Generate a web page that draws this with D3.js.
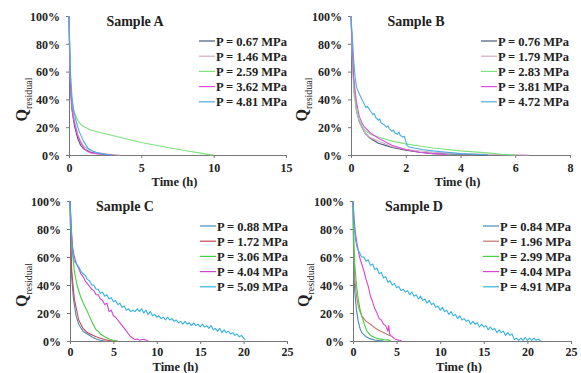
<!DOCTYPE html>
<html>
<head>
<meta charset="utf-8">
<script src="https://cdn.jsdelivr.net/npm/d3@7"></script>
<style>
  body { margin: 0; background: #fff; }
  svg { display: block; }
  text { font-family: "Liberation Serif", "Times New Roman", serif; font-weight: bold; fill: #222; }
  .axis path, .axis line { stroke: #777; }
</style>
</head>
<body>
<svg id="chart" width="581" height="373"></svg>
<script>
// --- data: time (h), residual (%)
const labelsA = ['P = 0.67 MPa', 'P = 1.46 MPa', 'P = 2.59 MPa', 'P = 3.62 MPa', 'P = 4.81 MPa'];
const labelsB = ['P = 0.76 MPa', 'P = 1.79 MPa', 'P = 2.83 MPa', 'P = 3.81 MPa', 'P = 4.72 MPa'];
const labelsC = ['P = 0.88 MPa', 'P = 1.72 MPa', 'P = 3.06 MPa', 'P = 4.04 MPa', 'P = 5.09 MPa'];
const labelsD = ['P = 0.84 MPa', 'P = 1.96 MPa', 'P = 2.99 MPa', 'P = 4.04 MPa', 'P = 4.91 MPa'];

const xTicksA = [0, 5, 10, 15];
const xTicksB = [0, 2, 4, 6, 8];
const xTicksCD = [0, 5, 10, 15, 20, 25];
const yTicks = [0, 20, 40, 60, 80, 100];

const A1 = [[0,100],[0.05,68],[0.1,48],[0.2,33],[0.3,26],[0.4,20],[0.6,12],[0.8,7],[1,4.5],[1.5,2],[2,1],[2.5,0.5],[3,0.2]];
const A2 = [[0,100],[0.05,72],[0.1,52],[0.2,36],[0.3,29],[0.4,24],[0.6,15],[0.8,10],[1,6.5],[1.5,3],[2,1.5],[2.5,0.8],[3,0.4],[3.5,0]];
const A3 = [[0,100],[0.05,75],[0.1,55],[0.2,40],[0.3,34],[0.4,30],[0.6,25],[0.8,22],[1,20.5],[1.5,18],[2,16.5],[3,14],[4,11.5],[5,9],[6,7],[7,5],[8,3.2],[9,1.5],[9.7,0.3],[10,0]];
const A4 = [[0,100],[0.05,70],[0.1,50],[0.2,35],[0.3,27],[0.4,22],[0.6,14],[0.8,9],[1,5.5],[1.2,3],[1.5,1.5],[2,0.8],[2.5,0.5],[3,0]];
const A5 = [[0,100],[0.05,80],[0.1,60],[0.2,42],[0.3,33],[0.5,24],[0.7,17],[1,10],[1.3,5],[1.6,3],[2,1.5],[2.5,0.5],[3,0]];

const B1 = [[0,100],[0.05,72],[0.1,52],[0.2,32],[0.3,24],[0.5,16],[0.7,12],[1,8.5],[1.5,5.5],[2,3.5],[2.5,2],[3,1],[4,0.5],[5,0]];
const B2 = [[0,100],[0.05,72],[0.1,52],[0.2,32],[0.3,24],[0.5,16],[0.7,12.5],[1,10],[1.5,6],[2,4],[3,2],[4,1],[5,0.5],[6,0.2],[6.5,0]];
const B3 = [[0,100],[0.05,70],[0.1,45],[0.2,32],[0.3,25],[0.5,18],[0.7,15],[1,13],[1.5,10],[2,8],[2.5,6.5],[3,5],[4,3],[5,1.5],[5.5,0.5],[6,0]];
const B4 = [[0,100],[0.05,75],[0.1,55],[0.2,38],[0.3,28],[0.4,23],[0.5,20],[0.7,16],[1,12],[1.5,7],[2,4],[2.5,2],[3,1],[3.5,0.3]];
const B5 = [[0,100],[0.05,84],[0.1,68],[0.15,56],[0.2,49],[0.3,44],[0.4,40],[0.5,36],[0.55,34],[0.6,35],[0.7,32],[0.8,29],[0.85,30],[0.9,27],[1,25],[1.05,26],[1.1,23],[1.2,22],[1.3,20],[1.35,21],[1.4,19],[1.5,17],[1.55,18],[1.6,16],[1.7,15],[1.75,16.5],[1.8,14],[1.9,13],[1.95,13.5],[2,10],[2.05,7],[2.1,6],[2.3,5],[2.6,4],[3,3],[3.5,2],[4,1],[4.5,0.5],[5,0.2]];

const C1 = [[0,100],[0.1,65],[0.2,45],[0.4,30],[0.7,18],[1,12],[1.5,7],[2,5],[2.5,3],[3,1.5],[3.5,0.5],[4,0]];
const C2 = [[0,100],[0.1,70],[0.2,50],[0.5,30],[1,15],[1.5,9],[2,6],[2.5,4.5],[3,3],[3.5,2],[4,1],[4.5,0.3],[5,0]];
const C3 = [[0,100],[0.1,80],[0.3,62],[0.5,50],[0.8,40],[1.2,32],[1.6,26],[2,21],[2.5,14],[3,8],[3.25,7],[3.5,5],[4,3],[4.5,1.5],[5,0.5],[5.5,0]];
const C4 = [[0,100],[0.1,88],[0.2,76],[0.3,67],[0.5,60],[0.75,55],[1,52],[1.25,48],[1.5,46],[1.75,43],[2,41],[2.25,39],[2.5,37],[2.75,36],[3,33],[3.25,33],[3.5,30],[3.75,29],[4,26],[4.25,27],[4.5,21],[4.75,22],[5,18],[5.25,17],[5.5,15],[5.75,13],[6,11],[6.25,9],[6.5,7],[6.75,5],[7,3],[7.25,2],[7.5,1],[7.75,1.5],[8,0.5],[8.5,1.2],[9,0]];
const C5 = [[0,100],[0.1,86],[0.2,73],[0.3,64],[0.4,60],[0.5,57],[0.75,55],[1,53],[1.25,50],[1.5,48],[1.75,47],[2,44],[2.25,43],[2.5,40],[2.75,40],[3,37],[3.25,37],[3.5,34],[3.75,35],[4,32],[4.25,33],[4.5,30],[4.75,31],[5,28],[5.25,29],[5.5,26],[5.75,27],[6,24],[6.25,25],[6.5,22],[6.75,23],[7,21],[7.25,22],[7.5,21],[7.75,23],[8,21],[8.25,23],[8.5,20],[8.75,22],[9,19],[9.25,21],[9.5,18],[9.75,19],[10,17],[10.25,18],[10.5,16],[10.75,17],[11,15],[11.25,17],[11.5,15],[11.75,16],[12,14],[12.25,15],[12.5,13],[12.75,14],[13,12],[13.25,14],[13.5,12],[13.75,13],[14,11],[14.25,13],[14.5,11],[14.75,12],[15,10],[15.25,12],[15.5,10],[15.75,11],[16,9],[16.25,11],[16.5,8],[16.75,9],[17,7],[17.25,9],[17.5,6],[17.75,8],[18,6],[18.25,7],[18.5,5],[18.75,6],[19,4],[19.25,5],[19.5,3],[19.75,4],[20,2],[20.2,1]];

const D1 = [[0,100],[0.05,70],[0.1,50],[0.2,35],[0.4,22],[0.6,14],[0.8,9],[1,6],[1.5,3],[2,1.5],[2.5,0.7],[3,0.3],[3.5,0]];
const D2 = [[0,100],[0.1,60],[0.2,45],[0.4,32],[0.6,25],[0.8,21],[1,18],[1.5,14],[2,12],[2.5,9.5],[3,7.5],[3.5,6],[4,4.5],[4.3,3.5]];
const D3 = [[0,100],[0.1,70],[0.2,55],[0.4,40],[0.6,30],[0.8,23],[1,18],[1.3,12],[1.6,7],[2,4],[2.5,2.5],[3,1.5],[3.5,1],[4,0.8],[4.3,0]];
const D4 = [[0,100],[0.1,90],[0.2,82],[0.3,76],[0.5,68],[0.75,60],[1,55],[1.25,50],[1.5,44],[1.75,39],[2,32],[2.25,28],[2.5,23],[2.75,20],[3,16],[3.25,15],[3.5,12],[3.75,11],[4,7],[4.1,11],[4.2,5],[4.4,3.5],[4.6,2.5],[4.8,1.5],[5,1],[5.3,0.5],[5.6,0]];
const D5 = [[0,100],[0.1,88],[0.2,78],[0.3,72],[0.5,66],[0.75,63],[1,60],[1.25,60],[1.5,57],[1.75,58],[2,54],[2.25,55],[2.5,51],[2.75,52],[3,48],[3.25,49],[3.5,45],[3.75,46],[4,42],[4.25,43],[4.5,40],[4.75,41],[5,38],[5.25,39],[5.5,36],[5.75,37],[6,35],[6.25,36],[6.5,33],[6.75,35],[7,32],[7.25,33],[7.5,30],[7.75,32],[8,29],[8.25,30],[8.5,27],[8.75,29],[9,26],[9.25,27],[9.5,24],[9.75,25],[10,22],[10.25,24],[10.5,21],[10.75,22],[11,19],[11.25,21],[11.5,18],[11.75,19],[12,16],[12.25,18],[12.5,15],[12.75,16],[13,14],[13.25,15],[13.5,12],[13.75,14],[14,12],[14.25,13],[14.5,10],[14.75,12],[15,10],[15.25,11],[15.5,8],[15.75,10],[16,8],[16.25,9],[16.5,6],[16.75,8],[17,6],[17.25,7],[17.5,4],[17.75,6],[18,4],[18.25,5],[18.5,1],[18.75,2],[19,0.5],[19.25,2],[19.5,0.5],[19.75,2.5],[20,0.5],[20.25,2],[20.5,0.5],[20.75,2],[21,0.5],[21.25,1.5],[21.5,0]];

// --- layout / style
const colorsAB = ['#46587c', '#d2aac2', '#7ee27e', '#e050e0', '#48aee0'];
const colorsC = ['#4a8ab2', '#c44852', '#44cc44', '#d044d0', '#34b2e0'];
const colorsD = ['#4a8ab2', '#c47a6c', '#44d044', '#dc44cc', '#34b4dc'];

const panels = [
  { title: 'Sample A', left: 69, right: 286, top: 16, bottom: 155, xMax: 15, xTicks: xTicksA, labels: labelsA, series: [A1, A2, A3, A4, A5], colors: colorsAB, titleX: 135, legendX: 199, qX: 27, timeDy: 31, tickPad: 5 },
  { title: 'Sample B', left: 351, right: 570, top: 16, bottom: 155, xMax: 8, xTicks: xTicksB, labels: labelsB, series: [B1, B2, B3, B4, B5], colors: colorsAB, titleX: 416, legendX: 481, qX: 307, timeDy: 31, tickPad: 5 },
  { title: 'Sample C', left: 70, right: 287, top: 201, bottom: 341, xMax: 25, xTicks: xTicksCD, labels: labelsC, series: [C1, C2, C3, C4, C5], colors: colorsC, titleX: 125, legendX: 200, qX: 27, timeDy: 29.5, tickPad: 3 },
  { title: 'Sample D', left: 353, right: 571, top: 201, bottom: 341, xMax: 25, xTicks: xTicksCD, labels: labelsD, series: [D1, D2, D3, D4, D5], colors: colorsD, titleX: 414, legendX: 483, qX: 309, timeDy: 29.5, tickPad: 3 },
];

const svg = d3.select('#chart');
svg.append('rect').attr('width', 581).attr('height', 373).attr('fill', '#fff');

panels.forEach(p => {
  const g = svg.append('g');

  const x = d3.scaleLinear().domain([0, p.xMax]).range([p.left, p.right]);
  const y = d3.scaleLinear().domain([0, 100]).range([p.bottom, p.top]);

  // axes
  g.append('g')
    .attr('class', 'axis')
    .attr('transform', `translate(0,${p.bottom})`)
    .call(d3.axisBottom(x).tickValues(p.xTicks).tickSize(3).tickSizeOuter(0).tickPadding(p.tickPad))
    .call(a => a.selectAll('text').style('font-size', '12px'));

  g.append('g')
    .attr('class', 'axis')
    .attr('transform', `translate(${p.left},0)`)
    .call(d3.axisLeft(y).tickValues(yTicks).tickFormat(d => d + '%').tickSize(3).tickSizeOuter(0).tickPadding(6))
    .call(a => a.selectAll('text').style('font-size', '12px').attr('dy', '0.36em'));

  // curves
  const line = d3.line()
    .x(d => x(d[0]))
    .y(d => y(d[1]));

  g.selectAll('.curve')
    .data(p.series)
    .enter()
    .append('path')
    .attr('class', 'curve')
    .attr('fill', 'none')
    .attr('stroke', (d, i) => p.colors[i])
    .attr('stroke-width', 1.1)
    .attr('stroke-linejoin', 'round')
    .attr('d', line);

  // title
  g.append('text')
    .attr('x', p.titleX)
    .attr('y', p.top + 10)
    .attr('text-anchor', 'middle')
    .style('font-size', '14px')
    .text(p.title);

  // axis titles
  g.append('text')
    .attr('x', (p.left + p.right) / 2 - 3)
    .attr('y', p.bottom + p.timeDy)
    .attr('text-anchor', 'middle')
    .style('font-size', '12.5px')
    .text('Time (h)');

  const cy = (p.top + p.bottom) / 2 + 14;
  const q = g.append('text')
    .attr('transform', `translate(${p.qX},${cy}) rotate(-90)`)
    .attr('text-anchor', 'middle');
  q.append('tspan').style('font-size', '16px').text('Q');
  q.append('tspan').attr('dy', 5).style('font-size', '10px').style('font-weight', 'normal').text('residual');

  // legend
  const leg = g.append('g').attr('transform', `translate(${p.legendX},${p.top + 25})`);
  const rows = leg.selectAll('.row')
    .data(p.labels)
    .enter()
    .append('g')
    .attr('transform', (d, i) => `translate(0,${i * 15.2})`);
  rows.append('line')
    .attr('x1', 0).attr('x2', 16)
    .attr('y1', 0).attr('y2', 0)
    .attr('stroke', (d, i) => p.colors[i])
    .attr('stroke-width', 1.2);
  rows.append('text')
    .attr('x', 17)
    .attr('y', 4.5)
    .style('font-size', '12.5px')
    .text(d => d);
});
</script>
</body>
</html>
